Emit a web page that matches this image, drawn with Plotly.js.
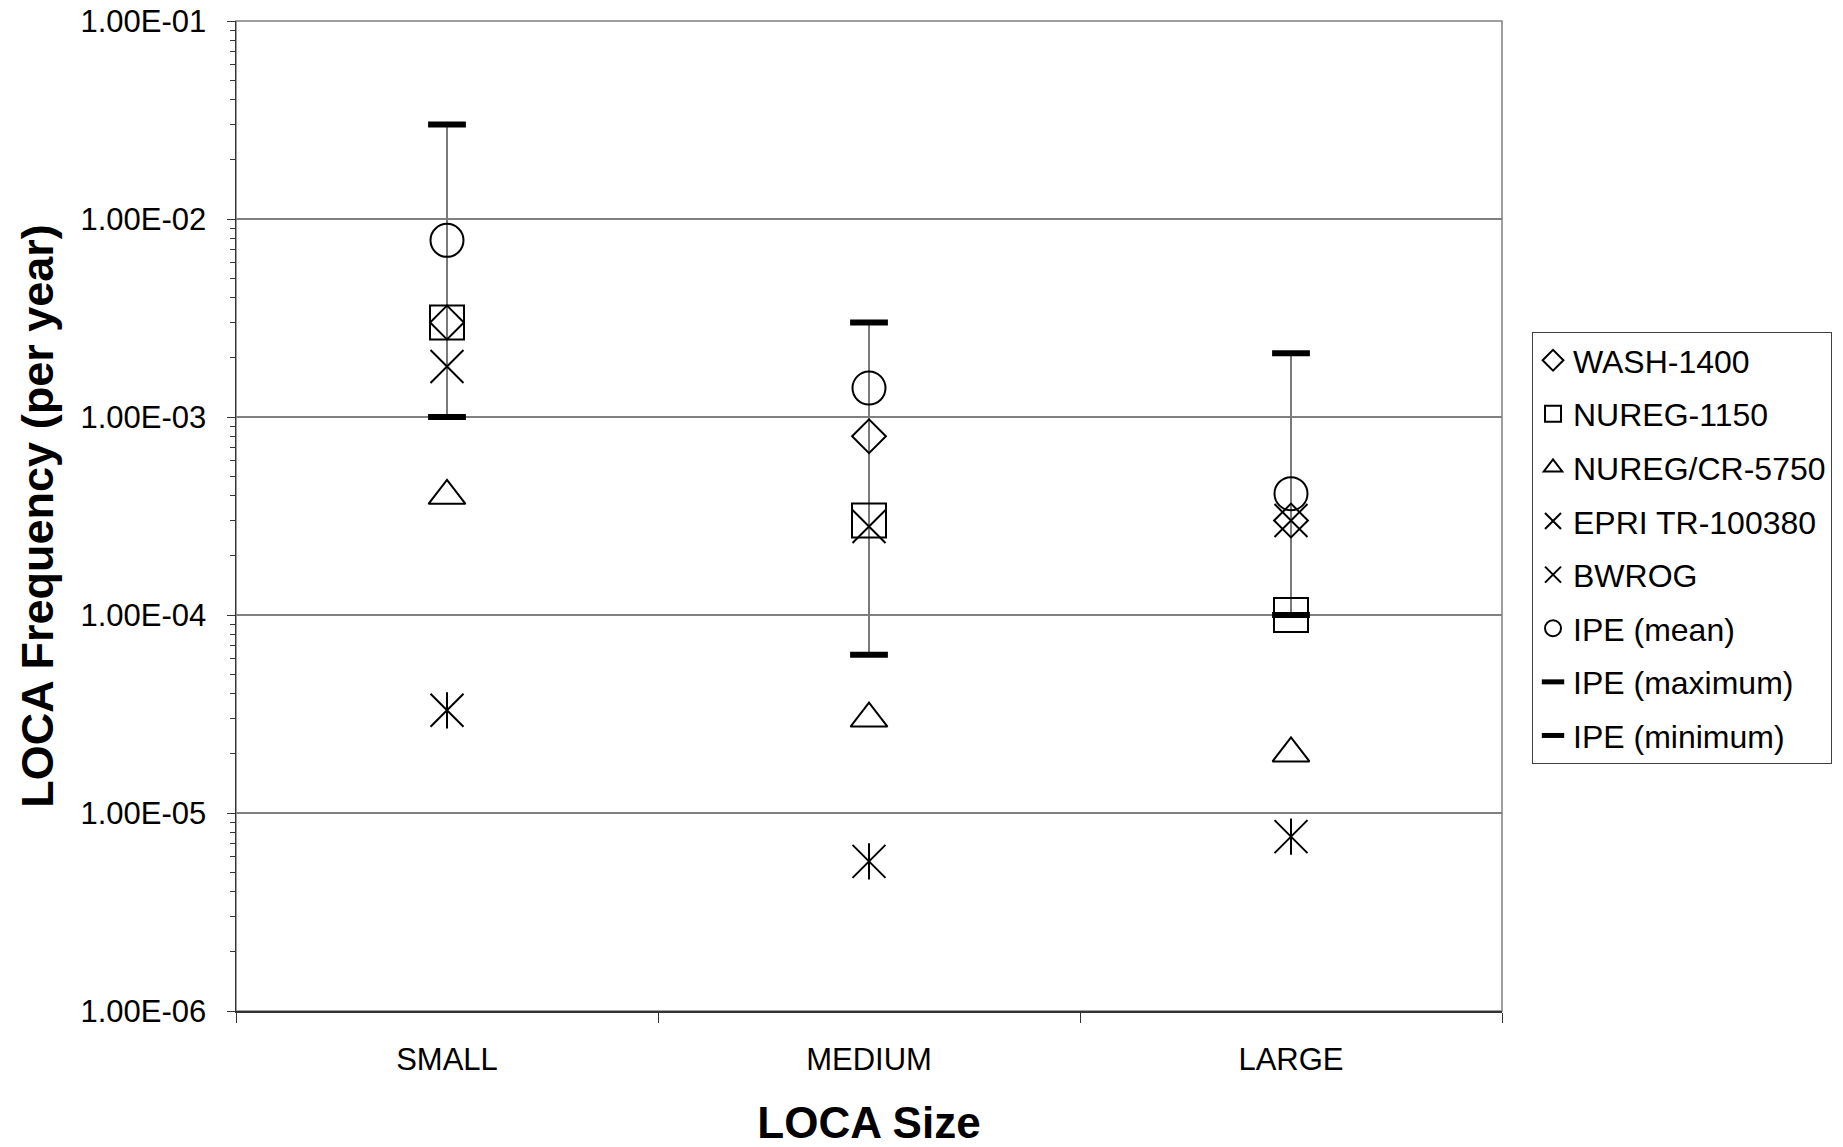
<!DOCTYPE html>
<html>
<head>
<meta charset="utf-8">
<script src="https://cdn.plot.ly/plotly-3.0.1.min.js"></script>
<style>
  html, body { margin: 0; padding: 0; background: #ffffff; }
  #chart { width: 1843px; height: 1147px; }
</style>
</head>
<body>
<div id="chart"></div>
<script>
// ---- data ----
var categories   = ['SMALL', 'MEDIUM', 'LARGE'];
var wash1400     = [3.0e-3, 8.0e-4, 3.0e-4];
var nureg1150    = [3.0e-3, 3.0e-4, 1.0e-4];
var nuregCr5750  = [4.0e-4, 3.0e-5, 2.0e-5];
var epriTr100380 = [1.8e-3, 2.8e-4, 3.0e-4];
var bwrog        = [3.3e-5, 5.7e-6, 7.6e-6];
var ipeMean      = [7.8e-3, 1.4e-3, 4.1e-4];
var ipeMaximum   = [3.0e-2, 3.0e-3, 2.1e-3];
var ipeMinimum   = [1.0e-3, 6.3e-5, 1.0e-4];
var yTickVals    = [1e-6, 1e-5, 1e-4, 1e-3, 1e-2, 1e-1];
var yTickText    = ['1.00E-06', '1.00E-05', '1.00E-04', '1.00E-03', '1.00E-02', '1.00E-01'];

var FONT = 'Liberation Sans, Arial, Helvetica, sans-serif';

// high-low line between IPE minimum and maximum
var rangeX = [], rangeY = [];
for (var i = 0; i < categories.length; i++) {
  rangeX.push(categories[i], categories[i], null);
  rangeY.push(ipeMinimum[i], ipeMaximum[i], null);
}

function pts(name, y, symbol, size, lw, extra) {
  var t = {
    type: 'scatter', mode: 'markers', name: name, legendgroup: name,
    x: categories, y: y,
    marker: { symbol: symbol, size: size, color: 'black', line: { color: 'black', width: lw } },
    hoverinfo: 'x+y+name'
  };
  if (extra) for (var k in extra) t[k] = extra[k];
  return t;
}

var traces = [
  { type: 'scatter', mode: 'lines', x: rangeX, y: rangeY, showlegend: false,
    line: { color: '#7a7a7a', width: 2 }, hoverinfo: 'skip', connectgaps: false },
  pts('WASH-1400', wash1400, 'diamond-open', 26, 2),
  pts('NUREG-1150', nureg1150, 'square-open', 34, 2),
  pts('NUREG/CR-5750', nuregCr5750, 'triangle-up-open', 32, 2),
  pts('EPRI TR-100380', epriTr100380, 'x-thin-open', 33, 2),
  pts('BWROG', bwrog, 'x-thin-open', 33, 2),
  pts('BWROG', bwrog, 'line-ns-open', 26, 2, { showlegend: false }),
  pts('IPE (mean)', ipeMean, 'circle-open', 33, 2),
  pts('IPE (maximum)', ipeMaximum, 'line-ew-open', 27, 6),
  pts('IPE (minimum)', ipeMinimum, 'line-ew-open', 27, 6)
];

var layout = {
  width: 1843, height: 1147,
  paper_bgcolor: '#ffffff', plot_bgcolor: '#ffffff',
  margin: { l: 236, r: 340, t: 21, b: 136, pad: 0 },
  font: { family: FONT, size: 31, color: '#000000' },
  showlegend: true,
  legend: {
    x: 1.0229, xanchor: 'left', y: 0.6859, yanchor: 'top',
    bgcolor: '#ffffff', bordercolor: '#404040', borderwidth: 1,
    font: { family: FONT, size: 32, color: '#000000' },
    tracegroupgap: 9, itemwidth: 30
  },
  xaxis: {
    type: 'category', range: [-0.5, 2.5],
    showgrid: false, zeroline: false,
    showline: true, linecolor: '#333333', linewidth: 2,
    ticks: 'outside', tickson: 'boundaries', ticklen: 10, tickcolor: '#333333', tickwidth: 1,
    ticklabelstandoff: 20,
    tickfont: { family: FONT, size: 31, color: '#000000' },
    title: { text: 'LOCA Size', font: { family: FONT, size: 44, color: '#000000', weight: 'bold' }, standoff: 36 }
  },
  yaxis: {
    type: 'log', range: [-6, -1],
    tickmode: 'array', tickvals: yTickVals, ticktext: yTickText,
    showgrid: true, gridcolor: '#808080', gridwidth: 1.5, zeroline: false,
    showline: true, linecolor: '#333333', linewidth: 1.5,
    ticks: 'outside', ticklen: 8, tickcolor: '#333333', tickwidth: 1,
    minor: { ticks: 'outside', ticklen: 5, tickcolor: '#333333', tickwidth: 1, dtick: 'D1', showgrid: false },
    ticklabelstandoff: 14,
    tickfont: { family: FONT, size: 31, color: '#000000' },
    title: { text: 'LOCA Frequency (per year)', font: { family: FONT, size: 45, color: '#000000', weight: 'bold' }, standoff: 12 }
  },
  shapes: [
    { type: 'rect', xref: 'paper', yref: 'paper', x0: 0, x1: 1, y0: 0, y1: 1,
      line: { color: '#808080', width: 1.5 }, layer: 'below' }
  ]
};

Plotly.newPlot('chart', traces, layout, { displayModeBar: false, staticPlot: true });
</script>
</body>
</html>
